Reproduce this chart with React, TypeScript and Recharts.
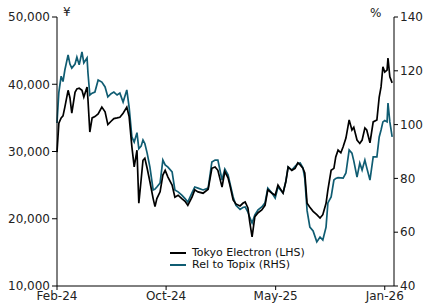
import { LineChart, Line, XAxis, YAxis } from "recharts";

// days since 1 Feb 2024
const days = [
  0, 4, 9, 13, 17, 24, 28, 32, 39, 43, 48, 54, 58, 65, 67, 71, 76, 82, 89, 97,
  104, 110, 117, 123, 130, 136, 143, 151, 156, 162, 167, 173, 177, 182, 186, 190, 195, 201, 208, 212,
  216, 223, 229, 234, 240, 249, 255, 262, 270, 277, 283, 292, 298, 305, 316, 327, 335, 342, 348, 357,
  363, 370, 374, 381, 387, 396, 402, 407, 413, 417, 422, 428, 435, 443, 450, 456, 465, 472, 478, 489,
  495, 500, 508, 515, 521, 526, 532, 536, 541, 547, 554, 562, 569, 575, 582, 586, 593, 599, 603, 608,
  614, 619, 625, 632, 638, 642, 649, 655, 660, 666, 670, 677, 684, 692, 697, 701, 705, 709, 714, 716,
  720, 725,
];

const tokyoElectron = [
  29900, 34200, 35000, 35300, 36600, 39100, 38000, 35700, 38800, 39300, 39400, 39100, 38100, 39600, 37700, 32900, 35000, 35200, 35600, 36600,
  35900, 34000, 34500, 34900, 35000, 35100, 35700, 36600, 35200, 30700, 27700, 30200, 22300, 25800, 28700, 29000, 27500, 25500, 23000, 21800,
  23000, 24000, 26500, 27200, 26200, 25000, 23200, 23500, 23000, 22600, 22000, 23200, 24300, 24000, 23800, 24400, 27500, 27700, 27200, 24700,
  27000, 26100, 25000, 22800, 22200, 21900, 22300, 22500, 21600, 19500, 17300, 20300, 20900, 21300, 22000, 24300, 23800, 23500, 25000, 23800,
  25500, 27700, 27200, 27500, 28300, 28000, 27500, 26800, 22300, 21700, 21100, 20600, 20100, 20600, 22300, 24300, 27200, 27500, 29200, 30200,
  29800, 30700, 32000, 34700, 33200, 33600, 31700, 31200, 31700, 33500, 33200, 31300, 34400, 34700, 38100, 39600, 42600, 41800, 42100, 43900,
  41100, 40200,
];

const relToTopix = [
  100.6, 112, 118, 116, 120.3, 125.9, 122.5, 121, 122.5, 125.1, 122.2, 127, 122.9, 124.8, 119.2, 111, 111.7, 112.1, 116.6, 115.8,
  114, 110.3, 111.5, 112.1, 111, 111.7, 108.4, 112.9, 106.5, 95.4, 93.5, 97, 91, 92, 94.3, 93, 89.4, 84.2, 75.7, 76,
  76.8, 78.3, 86.8, 85, 84.2, 82.4, 75.7, 75, 73.8, 72.5, 71.2, 74.6, 76.8, 76.4, 75.7, 76.4, 86.1, 86.8, 86.8, 79.4,
  83.5, 81.3, 78.3, 73.1, 70, 68.5, 69.2, 69.4, 67.5, 65.5, 63.4, 66.4, 68.3, 69.4, 70.9, 76.4, 74.6, 72.7, 76.8, 74.6,
  79, 84.2, 83.1, 84.5, 85.5, 85.7, 83.9, 80, 68, 61.9, 60.5, 56.4, 58.2, 57.1, 61.9, 70.9, 73.1, 79.4, 80, 80.3,
  80.2, 80.1, 82, 90.6, 89.4, 86.5, 80.5, 85.7, 83.1, 86.8, 84, 79.4, 88, 88, 95.4, 98, 101, 101.5, 101, 108,
  101, 95.4,
];

const xTicks = [0, 236, 473, 709];
const xTickLabels = ["Feb-24", "Oct-24", "May-25", "Jan-26"];
const leftTicks = [10000, 20000, 30000, 40000, 50000];
const rightTicks = [40, 60, 80, 100, 120, 140];

const seriesNames = ["Tokyo Electron (LHS)", "Rel to Topix (RHS)"];
const BLACK = "#000000";
const TEAL = "#0f5c72";

const data = days.map((d, i) => ({
  day: d,
  te: tokyoElectron[i],
  rel: relToTopix[i],
}));

function ChartLegend() {
  const colors = [BLACK, TEAL];
  return (
    <div
      style={{
        position: "absolute",
        left: 170,
        top: 247,
        fontSize: 11,
        lineHeight: "12px",
        color: "#111",
      }}
    >
      {seriesNames.map((n, i) => (
        <div key={n} style={{ display: "flex", alignItems: "center", whiteSpace: "nowrap" }}>
          <span
            style={{
              display: "inline-block",
              width: 16,
              height: 2,
              background: colors[i],
              marginRight: 6,
            }}
          />
          <span>{n}</span>
        </div>
      ))}
    </div>
  );
}

export default function App() {
  const tickStyle = { fontSize: 12, fill: "#222" };
  return (
    <div
      style={{
        position: "absolute",
        left: 0,
        top: 0,
        width: 424,
        height: 306,
        background: "#fff",
        fontFamily: "'DejaVu Sans', Verdana, sans-serif",
      }}
    >
      <LineChart
        width={424}
        height={306}
        data={data}
        margin={{ top: 17, right: 0, bottom: 0, left: 0 }}
      >
        <XAxis
          dataKey="day"
          type="number"
          domain={[0, 729]}
          ticks={xTicks}
          tickFormatter={(v: number) => xTickLabels[xTicks.indexOf(v)] ?? ""}
          height={20}
          stroke="#000"
          tick={tickStyle}
          tickSize={4}
          tickMargin={1}
          interval={0}
        />
        <YAxis
          yAxisId="left"
          domain={[10000, 50000]}
          ticks={leftTicks}
          tickFormatter={(v: number) => v.toLocaleString("en-US")}
          width={57}
          stroke="#000"
          tick={tickStyle}
          tickSize={5}
          tickMargin={2}
          interval={0}
        />
        <YAxis
          yAxisId="right"
          orientation="right"
          domain={[40, 140]}
          ticks={rightTicks}
          width={30}
          stroke="#000"
          tick={tickStyle}
          tickSize={4}
          tickMargin={2}
          interval={0}
        />
        <Line
          yAxisId="right"
          dataKey="rel"
          type="linear"
          stroke={TEAL}
          strokeWidth={1.7}
          dot={false}
          isAnimationActive={false}
        />
        <Line
          yAxisId="left"
          dataKey="te"
          type="linear"
          stroke={BLACK}
          strokeWidth={1.7}
          dot={false}
          isAnimationActive={false}
        />
      </LineChart>
      <ChartLegend />
      <span style={{ position: "absolute", left: 63, top: 5, fontSize: 12, color: "#222" }}>¥</span>
      <span style={{ position: "absolute", left: 370, top: 6, fontSize: 12, color: "#222" }}>%</span>
    </div>
  );
}
